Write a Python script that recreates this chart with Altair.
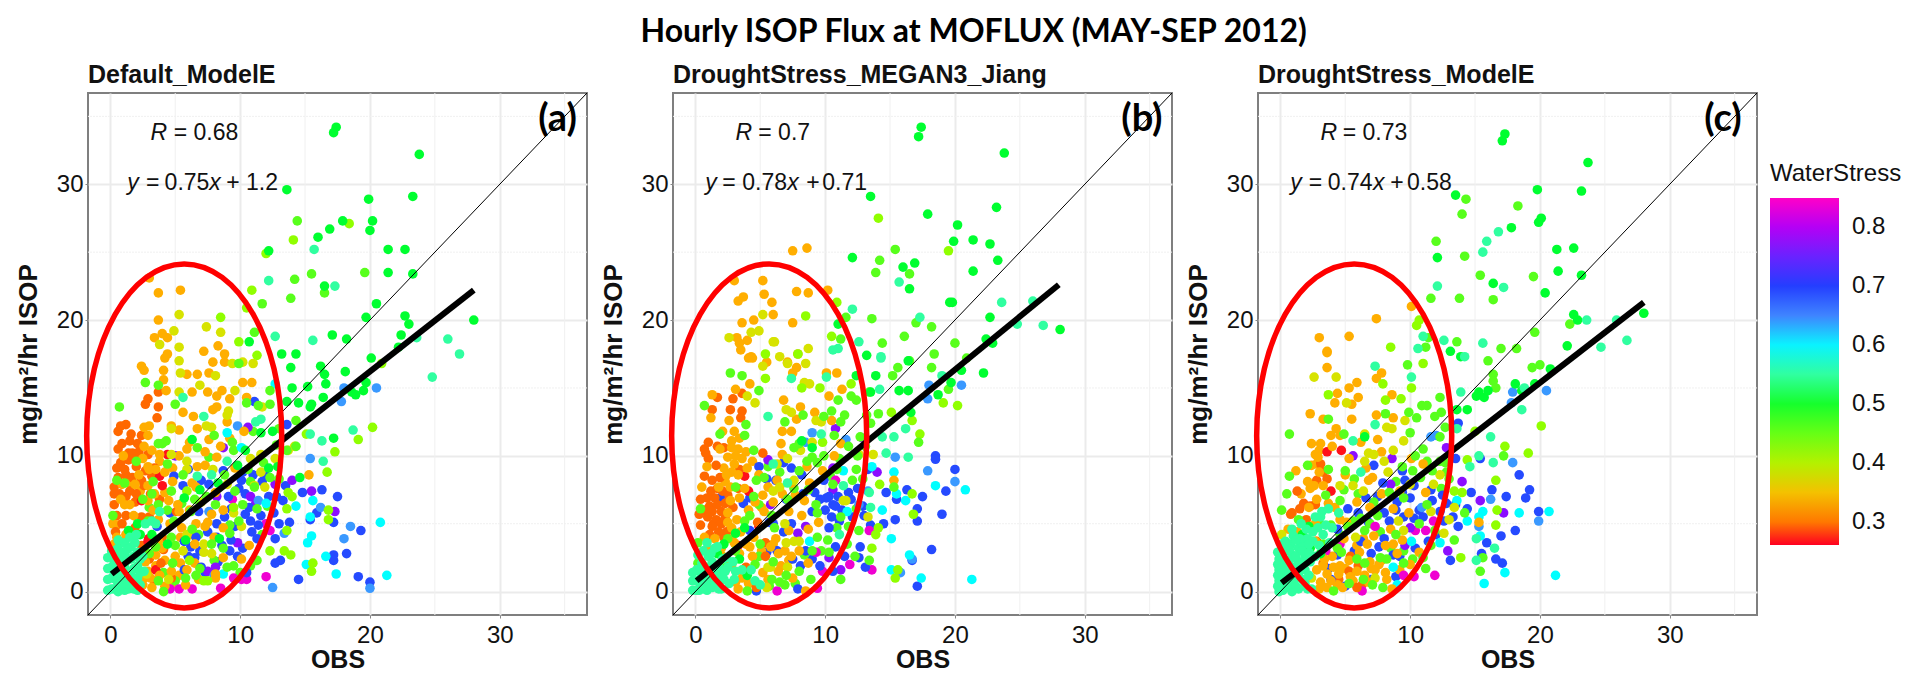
import altair as alt
import pandas as pd

DOMAIN = [-1.72, 36.72]
MAJOR = [0, 10, 20, 30]
MINOR = [5, 15, 25, 35]
W_STOPS = [0.261, 0.285, 0.336, 0.375, 0.42, 0.466, 0.513, 0.55, 0.595, 0.618, 0.652, 0.697, 0.754, 0.782, 0.81, 0.849]
W_COLORS = ["#ff0020", "#ff6000", "#ffb000", "#e0e000", "#90ff00", "#50ff20", "#00ff30", "#30ffa0", "#00ffff", "#30c8ff", "#4080ff", "#2040ff", "#7020ff", "#a000ff", "#c000f0", "#ff00c8"]

# ---------- panel (a) points, grouped by water stress ----------
A_MAG = [(12,1.1),(12.3,4.5),(12,5),(10.1,.9),(10.5,.9),(9.5,1),(6.3,.2),(5.3,.2),(8.5,.25),(9.4,6.8),(4.6,.2)]
A_PUR = [(15.5,7.4),(17.3,5.9),(14,8.2),(5,10),(8.7,10.6),(10.8,7),(9.8,3.6),(8.2,7),(12.7,7.9),(7.5,1.5),(8.1,1.8),(11.2,6.5),(10.6,12.1)]
A_BLU = [(14.8,7.3),(16.3,7.5),(17.5,7),(15.9,5.8),(17.2,5.1),(19.3,4.5),(18.2,2.8),(17.2,2.7),(17.2,2.3),(13.8,5.1),(12.7,3.9),(13.1,2.3),(12.7,2.1),(19.1,1.1),(20,.7),(14.5,.9),(4.9,8.5),(7.6,7.9),(10.1,8.2),(10.2,8.8),(13.3,6.7),(10.7,6.2),(6.6,4),(9.8,2.6),(10.4,5.7),(9.1,7),(10.5,1.4),(13.6,12.3),(11.1,14),(15.4,5.3),(5.7,1.6),(6.9,3),(5.7,3.7),(8.7,8.9),(11.7,8.1),(12.2,7),(9.9,7.6),(11.4,4.9),(10.9,4.4),(8.2,4),(6,2.6),(7,1.8),(9.3,3.8),(11.3,3.9)]
A_LBL = [(18,15),(20.5,15),(17.8,14),(15.4,9.8),(16.2,6.2),(18.5,4.8),(18,3.9),(13.4,4.3),(20,.25),(12.5,.3),(9.8,12.2),(11.4,6.7),(7.6,5.9),(8,1.2)]
A_CYA = [(15.6,6.7),(14.3,6.3),(15.4,5.5),(20.8,5.1),(15.5,4.1),(15.2,3.6),(16.6,2.6),(15.1,2),(17.4,1.3),(21.3,1.2),(9,11.7),(10.1,10.6),(12.7,15.3),(8.7,1.3),(12,6.5)]
A_REDD = [(2.4,6.7),(4,7.8),(3.8,8.5),(2.9,3.7),(3.5,1.6),(4.4,10.1),(2.95,3.9)]
A_ORD = [(.6,11.8),(1.2,12.3),(.8,12.2),(1.5,11.1),(.6,10.5),(1.7,10.2),(.8,9.5),(.5,9.1),(1.2,8.6),(1.7,8.4),(.3,7.7),(.3,7.2),(1.5,7.4),(2.9,14.2),(3.7,14.7),(2.7,13.8),(3.7,13.6),(3.6,12.8),(2.4,8.2),(3.4,9.1),(2.9,10.1),(2.1,10.9),(2.6,7.8),(2,7.2),(1.1,9),(2,9.2),(2.2,10.3),(3,5.5),(5.1,5.9),(4,4),(4.1,3.1),(3.9,2.1),(4.7,1),(1.2,7),(.9,5),(.4,4.4),(2.4,5.5)]
A_ORA = [(3,23.1),(3.7,22),(5.4,22.2),(3.7,20),(4,19),(3.4,18.7),(4.4,18.7),(15.3,8.6),(2.4,16.6),(2.6,16.3),(4.2,17.2),(4.4,17.5),(4.1,16.3),(4.1,15.6),(4.3,14.8),(5.9,16),(6.7,16),(7.6,16.1),(7.9,16.9),(8.8,16.9),(7.5,14.7),(8.6,14.8),(9.2,14.2),(10.2,15.4),(10.9,15.4),(10.5,14.3),(8.2,13.6),(7.9,13.4),(6.4,12.9),(4.7,12.2),(5.3,11.9),(6.7,12),(7.6,11.2),(10.3,11.8),(2.6,12.1),(3,12.2),(2.9,11.5),(2.6,10.7),(3.2,10.4),(8.2,9.9),(5.9,10.5),(5.3,10),(3.8,10.1),(6.7,9.2),(7.3,9.3),(8.5,10.7),(3.5,9),(2.9,7.8),(6.3,8),(6.6,7.7),(.8,6.8),(1.5,6.4),(1.1,6.4),(2.9,6.7),(5.2,6.4),(5.3,5.9),(7.5,5.1),(7.3,4.8),(6.6,5),(8.7,2.5),(10.1,2.4),(10.7,3.4),(8.7,6),(5.9,1.6),(4.7,1.5),(3.2,.3),(3.1,1),(4,3.2),(8.1,1.3),(8.1,1),(8.7,4.7),(5.5,4.7),(.5,4),(.3,3.5),(7.2,17.7),(8.3,18.1),(8.8,17.5),(2.2,8.6),(3,9),(1.8,5.6),(2.7,2.2),(3.8,1.2),(2.5,.5),(4.8,8.1),(1,10),(.9,7.9),(2.5,9.8),(3.4,7.2),(1.9,7.9),(2.9,9.2),(4.2,8.8),(3.3,6),(4.5,6.7),(6.1,6),(7.8,5.7),(8.1,7.3),(9.6,9.1),(6.1,11),(7.3,10.3),(9,12.5),(1,3.7),(3.7,3.7),(5,2.6),(6.5,3.5),(8,4),(6.8,.9),(4.2,.4),(3.5,2.7),(5.8,.5)]
A_YEL = [(5.3,20.4),(7.4,19.5),(8.5,19.1),(4.9,19.2),(5.3,18),(3.8,18.2),(5.3,17),(9.4,16.8),(10.2,16.9),(5.4,16.1),(8.1,15.9),(6.9,15.2),(5.3,14.7),(9.6,14.8),(9.1,13.3),(9,13),(4.7,12),(7.4,12.2),(7.8,12.1),(5.9,9.6),(5.9,9),(7.9,9),(4.7,10.1),(7.2,3.5),(5.6,3),(7.2,2.9),(7.8,2.8),(9,7.9),(11.6,8.8),(11.1,7.8),(11.9,7.7),(5.9,4.2),(10.1,4.8),(9.5,5.8),(14.2,10.7),(13.7,10.4),(12.7,9.8),(11.6,10.1),(10.8,9.8),(11.7,13.6),(11,16.8),(4.5,.9),(2.8,1.3),(7,6.6)]
A_YGR = [(10.9,22.2),(10.5,20.9),(8.5,20.2),(9.9,18.4),(13.6,4.5),(13.6,6.1),(12,24.9),(14.1,25.9),(18.4,27.1),(16.8,6),(16.8,5.3),(20.2,12.1),(19.1,11.2),(17.3,10.3),(16.7,8.8),(15.1,11.6),(13.4,3),(13.9,2.7),(15.5,1.5),(15.6,2.1),(11.3,17.4),(6.1,2.3),(7.2,.8),(7.5,.8),(12.3,3),(14,7),(13.7,7.3),(20.9,16.8),(9.5,6.2),(5.9,7.4)]
A_LIM = [(14.4,27.3),(19.6,23.5),(15.5,23.4),(14.2,23),(16.5,22),(13.9,21.6),(11.7,21.2),(11.1,19.1),(4,10.9),(3.7,10.9),(4.3,11.1),(2.7,15.4),(3.7,15.2),(5,13.8),(.7,13.6),(12.3,14.8),(12.3,13.8),(11.4,13.7),(10.5,13.9),(9.9,16.8),(12.3,8.4),(13,8.3),(11.1,7.7),(.5,8.2),(.2,5.6),(10.2,6.4),(11.3,6.1),(9.9,5.2),(4.1,0),(3.2,7.2),(3.7,6.4),(2,9.6),(4.4,9.4),(4.7,7.4),(8.1,6.4),(3.7,.8),(2.9,5.2),(4.7,4),(8.7,3.2),(6.2,5.9),(14.3,12.6),(11.3,2.3),(14.3,10.7),(13.6,10.4),(5.8,1),(6.9,1.7),(1.1,8),(2.5,6.8),(3.3,8.1),(4.9,5.2),(5.6,8.6),(6.5,6.8),(7.4,7),(8.8,8.6),(9.6,7.4),(10.6,9),(11.8,9.5),(9.4,11),(8,11.5),(12.8,10.8),(13,12),(3.5,3.3),(5,3.4),(6.3,4.6),(7.8,3.5),(9.2,4.3),(9,1.8),(6.6,1.2),(4.8,2.1),(3,2.8)]
A_GRN = [(17.4,34.2),(17.2,33.8),(23.8,32.2),(23.3,29.1),(19.9,28.9),(13.6,29.6),(17.9,27.3),(20.2,27.3),(20,26.6),(16.9,26.7),(16,26.1),(21.4,25.2),(22.7,25.2),(12.2,25.1),(21.4,23.5),(23.3,23.4),(16.5,22.5),(20.5,21.2),(19.7,20.2),(22.7,20.3),(23,19.7),(28,20),(17.1,18.9),(18.2,18.6),(22.4,18.9),(10.7,18.4),(22.2,18),(14.3,17.5),(13.2,17.5),(13.9,16.5),(20.1,17.2),(18.1,16.2),(16.2,16.6),(16.5,16),(16.6,15.3),(19.7,15.4),(15.2,15.1),(14,15),(18.6,14.7),(19.5,14.8),(18.9,14.5),(16.4,14.3),(15.5,13.8),(14.5,13.9),(15.4,13.6),(17.2,11.3),(14.6,8.4),(2.1,5),(1.4,4.5),(2.3,4.2),(3.2,4.2),(6.9,7.5),(8.4,3.9),(5.7,6.9),(8.3,8),(9.8,9.3),(11.6,11.7),(10.4,10.4),(6.3,11.2),(12.2,9.1),(12.9,9.2),(12.5,11.8),(13.6,14),(4.4,3.5),(5.8,3.8)]
A_TEA = [(15.7,25.2),(17.3,22.5),(12.2,22.9),(12.7,18.8),(15.6,18.5),(23.6,18.7),(26,18.6),(26.9,17.5),(24.8,15.8),(18.7,11.9),(16.3,11.1),(15.4,11.6),(16.4,9.6),(5.6,14.3),(7.2,12.9),(11.6,12.7),(11.2,12.5),(7.8,8.6),(6.7,8.5),(9,9.6),(3.2,5.2),(3.8,5.9),(2.7,5),(3.5,5),(.1,2.6),(.1,1.8),(.1,1),(.1,.2),(.6,3.2),(.6,2.4),(.6,1.5),(.6,.6),(.6,0),(1.1,3.6),(1.1,2.7),(1.1,1.8),(1.1,.9),(1.1,.1),(1.6,3.3),(1.6,2.4),(1.6,1.4),(1.6,.5),(2.1,2.9),(2.1,1.9),(2.1,1),(2.1,.1),(2.6,1.5),(.4,.9),(.9,2.2),(1.4,.2),(1.9,3.6),(.3,2.1)]
# denser, underlying points of panel (a)
A_F_BLU = [(6.5,2.5),(7.3,1.4),(8.3,2.2),(9.2,3),(8.6,3.4),(6.2,3.3),(7.5,4.4),(8.8,5.5),(9.6,4.8),(10.2,3.2),(10.8,5.2),(11.6,5.6),(12.6,5.8),(13,5),(12.8,7),(13.5,7.8),(12,8.5),(11,8.6),(10.4,7.2),(9.3,6.1),(8.2,5),(7,8.2),(6,9),(5.6,7.8),(4.6,5.8),(3.6,4.8),(6.8,5.9)]
A_F_ORD = [(.3,6.4),(.7,7.2),(1.9,6.6),(2.7,8.9),(3.2,8.5),(1.4,9.7),(.9,10.9),(1.6,11.6),(2.4,11.5),(1.9,9.8),(.5,5.6),(1.2,5.6),(1.9,4.7),(3.8,6.8),(2.4,3.4),(3,2.4),(3.4,.8),(.6,8.4),(1.4,10.2),(3.1,7.2)]
A_F_ORA = [(.5,4.9),(.2,5),(1.2,4.2),(3.7,5.3),(4.6,5),(5.4,4),(6.2,4.2),(4.2,2.3),(5.4,2.1),(6.5,2.1),(4.7,.5),(5.3,1.2),(2.9,1.5),(3.5,1.9),(2.6,1),(3.8,9.6),(4.8,9.1),(2.3,7.4),(1.5,8),(4.2,7.3),(9.2,11.3),(8.2,14.4),(5.6,13.2),(6.3,14.7)]
A_F_LIM = [(6.8,4.2),(8,2.3),(9.5,1.9),(10,1.4),(10.8,1.9),(9.2,4.9),(10.8,8.1),(12.1,6.3),(11.7,4.2),(5.5,6.5),(4.4,6),(7.6,9.9),(6.7,10.6),(9.5,10.4),(11,11.8),(3,6.2),(4.1,1.4),(5,.8)]
A_F_TEA = [(-.2,.1),(-.2,.9),(-.2,1.7),(-.2,2.5),(.3,.2),(.3,1.4),(.3,2.8),(.8,.4),(.8,1.3),(.8,2.9),(1.3,.6),(1.3,1.4),(1.3,2.3),(1.3,3.1),(1.8,.2),(1.8,.8),(1.8,1.7),(1.8,2.6),(2.3,.5),(2.3,1.4),(2.3,2.4),(.1,3),(.6,3.8),(1.5,4),(2.5,2.6),(2,4.2)]

# ---------- panel (b) points ----------
B_MAG = [(13.4,4.5),(11.9,2),(13.6,1.6),(9.8,1.5),(9.4,.25),(6.3,.05),(10.8,8.2),(9.3,2.9)]
B_PUR = [(14,8.8),(11.2,1.6),(10.8,12),(5.6,9.7),(10.6,9.1),(8.5,4.8),(7.9,4.3),(5.8,6.4),(10.3,2.5),(12.9,11.3),(10.6,7.5)]
B_BLU = [(18.5,10),(18.5,9.75),(20,9),(19.3,7.4),(16.3,7.5),(14.7,7.3),(17.5,7),(15.5,6.8),(17.1,6.1),(19,5.7),(15.4,5.3),(17.1,5.2),(14.5,5),(18.2,3.1),(12.7,3.3),(16.7,2.3),(12.6,2.5),(13.1,1.8),(17.1,.4),(10.6,1.5),(7.9,.2),(4.7,.05),(9.9,8.2),(10.1,6.9),(10.6,6.4),(10.3,7),(10.8,6.3),(1.9,6.9),(8.5,3),(6.3,3),(5.7,5.1),(13.3,9),(6.2,8.2),(12,6.8),(11.3,6),(9.2,7.3),(12.1,5.5),(11,7),(8.2,8.6),(7,6.8),(6,5),(7.5,2.4),(9.6,1.9),(10.3,4.7),(13,5.6),(4.9,9.2),(3.7,6.5)]
B_LBL = [(20.5,15.2),(18,15.2),(17.9,14.2),(15.4,9.9),(17.9,8.9),(20,8.1),(9,11.7),(8.5,11),(11.6,11.2),(12.6,6.4),(13.3,7.4),(15.8,1.4),(16.7,2.4)]
B_CYA = [(13.6,9.2),(15.3,8.8),(18.5,7.8),(20.8,7.5),(15.5,7.2),(16.2,6.7),(14.4,6),(16.5,2.7),(15.1,1.6),(17.4,1),(21.3,.9),(11.7,5.9),(8.8,3.7),(11.4,8.9),(15.1,3.9)]
B_REDD = [(3.8,8.5),(4.1,7.4),(4.9,4.8),(3.3,3.4)]
B_ORD = [(1.7,14.3),(1.3,13.4),(2.7,13.4),(2.9,14.2),(3.6,14.6),(3.6,13.3),(3.5,12.8),(.7,10.5),(1,11),(.8,10.2),(2.2,10.6),(1.6,9.3),(.7,8.5),(1.3,8.2),(1.9,8.4),(1.5,6.9),(1.1,6.3),(1.7,6.4),(1.3,5.9),(2,5.9),(.95,5.5),(1.6,5.3),(1.3,4.8),(2,5),(.4,6.8),(.3,5.7),(3.4,9),(5.2,10.2),(4.8,5.1),(5.4,3.6),(5.4,2.6),(3.9,1.8),(4.7,.3),(2.3,6.5),(2.1,7.4),(1.2,7.4),(2.4,4.4),(1.8,4.4)]
B_ORA = [(7.5,25.1),(8.6,25.3),(3,22.9),(5.2,22.9),(3.7,21.7),(3.3,21.4),(5.3,21.9),(7.8,22.1),(8.7,22),(10.2,22.2),(5.9,21.3),(6,20.4),(4.5,20),(3.6,19.8),(7.5,19.8),(3.2,18.7),(4,18.5),(3.4,18.3),(3.5,17.8),(4.3,17.3),(7.9,17.5),(7.1,16.9),(15.3,8.2),(1.2,12.8),(1.3,14.5),(3.1,14.9),(4.2,15.3),(6.8,14.1),(5.5,16.9),(4.4,17.2),(4.1,17.2),(7.5,16.1),(7.8,16.5),(10.1,16.1),(10.9,16.1),(11.3,14.9),(10.3,14.4),(8.1,13.6),(9.2,13.2),(10.5,12.6),(7.8,12.7),(7.4,11.8),(6.7,11.8),(6.6,10.9),(2.6,12.6),(2.1,11.8),(3,11.8),(2.8,11.1),(2.8,10.6),(3.3,10.5),(3.1,10),(2.5,9.9),(3.6,9.8),(3,9.4),(4,9.1),(2.8,8.8),(3.3,8.6),(4.9,8.6),(.5,7.7),(2.7,7.7),(3.4,6.9),(2.7,6.7),(4.6,6.6),(5.2,7.1),(2.5,5.8),(2.5,5.1),(2.8,4.7),(6.3,8.2),(6.7,7.2),(8.4,6.7),(8.2,5.6),(7.2,5.9),(7.2,4.5),(8.7,4.6),(9.5,5.1),(9.8,8.9),(10.7,10),(11.2,10.9),(6.2,3.9),(7.4,2.6),(6.4,2.8),(8.7,2.1),(4.4,2.6),(3.4,2.8),(1,3.1),(1.5,3.9),(.7,4),(3.3,.2),(5.6,.9),(5.2,1.4),(8.5,.05),(3.9,3.5),(1.8,7.7),(2.4,8.6),(3.8,7.6),(4.1,6),(5.3,5.9),(6,6.6),(7.4,8),(8.8,8),(3,3.6),(4.5,4),(5.8,3.3),(6.9,3),(8,3),(2,3.2),(2.8,2),(3.6,1),(6.4,1.5),(7.5,1),(1.9,10.5),(.9,9.2)]
B_YEL = [(5.2,20.4),(4.9,19.2),(4.3,19.1),(2.6,18.7),(6,18.4),(8.7,17.9),(6.5,17.3),(8.5,16.8),(6.1,18.4),(7.1,16.8),(5.2,16.6),(8.4,15.4),(8.8,15.3),(4.6,13.9),(7,13.4),(7.4,13.2),(9.7,12.5),(9.3,12.6),(9,11),(8.1,10.4),(7.1,9.8),(6.3,9.4),(7.6,8.2),(6,7.4),(6.5,7.7),(6.9,5),(7,3.6),(7.6,3.7),(8,3.7),(5.6,1.8),(5.8,1.8),(7.1,1.8),(5.5,.3),(13.3,5.5),(12.6,10.1),(11.4,6.7),(11.6,6.7),(4,14.4),(13.7,10.1)]
B_YGR = [(10.5,18.8),(10.9,21.3),(8.5,20.3),(5.4,17.5),(7.9,17.5),(14.1,27.5),(19.5,25.1),(5.4,15.7),(8.2,15),(9.6,15),(19.1,13.9),(20.2,13.7),(16.7,12.6),(17.3,11.6),(15.1,13.2),(16.7,7.2),(16.8,5.7),(14.1,4.7),(13.9,4.2),(13.6,3.2),(15.4,1),(15.6,1.6),(14.2,7.9),(12,15.3),(9.8,11)]
B_LIM = [(15.4,25.2),(14.2,24.4),(13.9,23.5),(16.5,23.4),(11.6,20.2),(13.6,20.1),(17,19.8),(18.2,19.5),(11.2,18.6),(16.1,18.8),(20,18.3),(14.4,18.3),(18.4,17.5),(16.5,17),(20.9,17.2),(18.2,16.5),(19.5,14.9),(12,14.4),(11,14.1),(12.4,14.1),(13.4,14.7),(10.5,13.3),(9.9,12.9),(8.3,13),(6.9,12.5),(11.2,12.5),(.7,13.7),(2.7,16.1),(3.6,15.9),(4.9,14.8),(1.9,11.6),(3.9,12.3),(3.8,11.5),(4.5,10.4),(8,10.9),(9,9.9),(12.5,10),(12.4,9),(12.1,8.2),(3.1,7.7),(4.7,8.2),(4.2,5.6),(.4,6.1),(9.3,6.4),(9.4,5.8),(11.2,5.5),(12.6,4.5),(11.7,3.5),(10.3,2.9),(8,1.5),(8.9,.9),(5.9,.9),(6.5,.7),(4,.05),(.2,3.6),(.2,2.1),(9.4,4),(6.1,4.7),(8,8.9),(5.3,8.4),(10.6,7.9),(12.3,2.6),(13.4,2.3),(15.6,16.5),(15.2,15.9),(14.1,13.1),(17.2,11),(15.3,7.7),(11.2,.9),(4.5,7),(5.9,5.6),(7.1,6.8),(8.7,7.5),(9.4,9.5),(10.9,9),(11.8,10.7),(12.7,11.4),(13.2,13),(13.5,12.4),(10.7,11.5),(9.9,10),(8.6,9.6),(7.6,10.6),(5,3.5),(6,2.2),(9,3),(10.2,3.8),(4.6,2),(7,1.2),(2.5,3.9),(3.1,3)]
B_GRN = [(17.4,34.2),(17.2,33.5),(23.8,32.3),(13.5,29.1),(23.2,28.3),(17.9,27.8),(20.2,27),(19.9,25.8),(21.4,25.9),(22.7,25.6),(12.1,24.6),(16,23.9),(16.9,24.2),(23.3,24.4),(21.4,23.6),(16.5,22.3),(19.8,21.3),(19.6,21.3),(22.7,20.2),(11,19.7),(22.4,18.6),(22.9,18.3),(28.1,19.3),(13.2,17.4),(22.2,16.1),(20.5,16.3),(19.7,15.4),(18.7,14.5),(16.4,17),(13.9,15.9),(12.4,15.9),(15.7,14.8),(16.4,14.8),(13.5,14.7),(16.6,13.2),(9,10.6),(8.2,11.1),(3.1,4.3),(3.8,4.7),(2.2,3.5),(1.7,2.8),(3.4,2.4),(4,1.2)]
B_TEA = [(15.7,22.8),(23.6,21.3),(26,21.4),(12.1,20.8),(17.3,20.2),(24.8,19.7),(26.8,19.6),(12.6,18.4),(11,17.9),(10.6,17.8),(14.3,17.3),(19,15.9),(14.3,17.2),(14.2,14.9),(16.2,12),(15.3,11.4),(14.4,11.4),(16.4,9.9),(14.7,10.2),(5.6,12.9),(7.4,15.7),(10.1,15.8),(9.7,11.6),(6,9.4),(7.1,8),(11.4,7.8),(13.4,7.3),(13.5,6.2),(11.1,4.2),(4.6,.8),(2.5,1.8),(3.1,1.5),(1.9,.9),(.1,1.6),(.1,.8),(.1,.1),(.5,2.1),(.5,1.3),(.5,.5),(.9,1.8),(.9,.9),(.9,.1),(1.3,2.2),(1.3,1.2),(1.3,.3),(1.8,1.8),(1.8,.2),(2.2,.9),(2.6,.6),(.3,1.5),(1.5,3.2),(1,2.6),(2.4,2.5),(2.9,2.2),(3.6,1.6),(.6,3),(2.1,1.3),(4.3,1.6),(5,.5)]
# denser, underlying points of panel (b)
B_F_BLU = [(9.6,6.8),(10,6),(10.5,5.5),(11.1,5.2),(11.8,7.3),(12.5,7.6),(12.9,6.3),(13.5,4.9),(9,5.9),(8.3,7.2),(7.4,9.1),(6.8,9.5),(5.5,8.3),(4.2,4.5),(5.5,2.9),(6.8,4.4),(7.4,5),(9,2.4),(10.8,3.3),(11.5,2.6),(8.1,1.9),(4.2,6.9)]
B_F_ORD = [(.9,6.9),(1.7,7.6),(2.3,5.4),(1.4,5),(.7,6),(1.9,5.1),(2.2,4),(1.1,4.2),(2.9,6.2),(3.3,7.6),(.4,4.9),(1.7,10.7),(1,9.8),(2.5,7.1)]
B_F_ORA = [(3.2,5.3),(3.5,4.4),(2.8,3.9),(4.2,3.3),(5.1,3),(6,3.5),(6.6,1.9),(7.2,2.3),(2.1,2.6),(2.4,1.7),(3.1,.7),(4.1,.6),(3.4,11.3),(3.9,10.3),(4.4,9.6),(2.2,9.1),(2.3,8.1),(5.1,6.2),(5.6,7.7),(7.7,7.1),(8.6,9.2),(6.7,10.1)]
B_F_LIM = [(4.9,2.6),(5.7,.4),(6.9,.5),(7.7,.6),(8.4,2.7),(9.7,3),(10.9,4.7),(11.8,4.8),(12.4,6.1),(12.9,8.3),(11.1,9.8),(10.4,8.5),(7.6,7.6),(6.5,8.8),(5.6,9.2),(4.9,6.4),(3.8,5.2),(2.2,2.2),(13.1,10.7),(11.5,13)]
B_F_TEA = [(-.2,.1),(-.2,.8),(-.2,1.4),(.3,.1),(.3,.7),(.7,.2),(.7,1.1),(.7,1.8),(1.1,.5),(1.1,1.5),(1.6,.7),(1.6,1.4),(2,.2),(2.3,1.5),(1.2,2.8),(2.1,2.4),(.2,2.7),(.9,3.6),(3,.9),(1.7,3.3)]

# ---------- panel (c) points ----------
C_MAG = [(11.9,1.2),(10.3,1.1),(9.5,1.2),(11.8,5.2),(11.2,4.5),(10.4,4.5),(7.3,4.8),(6.3,.05),(3.5,3),(4.6,3.5)]
C_PUR = [(14,8.1),(15.4,6.7),(17.2,5.8),(12.9,3),(5.6,10),(8.6,9.8),(8.5,7.9),(12.8,10.6),(10,4.7),(9.6,3.4)]
C_BLU = [(18.4,8.6),(19.2,7.5),(18.9,6.9),(16.3,7.5),(14.7,7.3),(17.4,7),(14.4,6.1),(19.9,5.9),(13.7,4.8),(18.1,4.5),(17,4.1),(15.9,3.6),(15.5,2.8),(13.1,2.3),(16.6,2.4),(17.1,2.1),(15.4,9.8),(13.5,9.8),(13.7,12.4),(7.2,9.3),(9.6,8.2),(10,6.9),(8,5.8),(9.5,5.5),(6.2,3.7),(12.3,5.9),(13.5,6.4),(12.6,5.2),(9.4,8.9),(6.6,6.9),(7.9,8),(9,6.6),(10.7,6),(11.7,6.7),(12.5,7.1),(8,3.9),(7,2.8),(8.7,2.7),(6,5.8),(5.2,6.1),(4.4,4.6),(3.9,.9)]
C_LBL = [(20.5,14.8),(17.9,14.7),(17.8,13.9),(17.9,9.5),(19.9,5.2),(15.3,4.8),(11.6,11.4),(12,11.5),(10.9,6.2),(16.2,6.8)]
C_CYA = [(13.6,6.7),(15.6,5.9),(15.3,5.5),(18.4,5.8),(20.7,5.9),(14.4,5.2),(15.4,4.1),(12.3,3.6),(17.3,1.4),(21.2,1.2),(15.7,.6),(10.1,3.7),(8.7,1.8),(9,.5)]
C_REDD = [(3.6,10.3),(4.7,10.4),(3.9,7.4)]
C_ORD = [(.9,5.8),(1.3,7.4),(1.8,6.5),(3.6,8.3),(3.1,9.4),(5.3,1.5),(2.8,3.7),(.8,5.7),(2.3,6.3),(5.9,.3)]
C_ORA = [(10.1,21),(7.4,20.1),(3,18.7),(5.3,18.8),(3.6,17.7),(3.6,17.6),(3.6,16.5),(7.8,16.1),(7.4,15.7),(5.9,15.4),(5.3,15),(4.4,14.6),(8.6,14.5),(6,14.3),(4.2,13.9),(5.5,13.8),(7.4,13),(8.7,12.8),(5.5,12.7),(3.3,12.7),(2.3,13.1),(4.3,12),(3.9,11.5),(4.6,11.5),(7.5,11.2),(2.4,10.9),(3.1,10.9),(4,10.7),(7.8,10.3),(5.3,9.8),(2.9,9.9),(2.4,9.3),(3,8.8),(1.2,8.9),(6.6,9.1),(10.1,9.8),(11,9.4),(2.6,7.8),(6.8,8.2),(11.2,7.3),(7.8,7.2),(2.8,6.8),(2.2,6.2),(5.9,6.6),(8.7,6.1),(9.9,5.8),(5.1,5.1),(8.5,4.6),(.6,4.6),(7.2,4.1),(9.4,3.8),(8.1,3.4),(8.7,3.5),(2.7,3.7),(5.3,2.3),(4.1,1.8),(3.6,1.3),(7.3,1.6),(4.5,1.3),(3.1,.7),(3.9,.8),(4.8,.3),(8.2,.9),(10,2),(10.7,2.9),(15.3,5.1),(8.6,.2),(2.8,1.6),(6.1,2.9),(6.9,2.2),(5.4,1.1),(2.1,8.1),(2.7,5),(3.3,7.8),(4.2,6.2),(1.3,4.4),(2,3.4),(3.4,2.4),(4.6,1.9),(5.9,1.5),(6.5,1.2),(3.6,.3),(6.7,3.5),(7.8,2.3),(9,2.8),(4.9,3.9),(9.2,7.4),(6.9,6.2),(5,8.6)]
C_YEL = [(2.6,15.8),(4.3,15.8),(5.1,13.9),(8.6,12),(8.2,12.1),(9.6,12.6),(9.5,11.1),(6.5,11.6),(6.8,10.2),(7.2,10.1),(8.7,10.4),(6.5,9.6),(8,9.6),(8.3,8.8),(4.6,7.8),(5.6,7.8),(6.4,7.4),(.1,4.2),(5.8,4),(9.1,5.2),(13,5.3),(11.6,5.9),(9.5,4.5),(7.3,1),(11.8,7.9),(12.3,8.6),(10,7.9),(13.4,6.2),(12.6,4.3),(2.4,1)]
C_YGR = [(10.7,20),(10.5,19.6),(8.5,18),(3.7,14.5),(8.1,14.1),(9.3,14.2),(10.1,15),(11,16.8),(7.9,15.3),(20.1,12.2),(17.3,10.7),(19.1,10.2),(15,11.8),(14.4,9.7),(16.6,8.2),(16.7,6),(16.6,4.9),(13.9,2.5),(14,7.3),(13.4,7.4)]
C_LIM = [(14.3,28.9),(14,27.8),(18.3,28.4),(19.5,23.2),(15.4,23.3),(11.6,21.6),(13.8,21.6),(16.4,21.5),(12,25.8),(14.2,24.7),(19.6,19.1),(16,17),(17,17.9),(18.2,17.9),(11.4,18.7),(11.2,18),(13.6,18.4),(22.3,19.7),(9.8,16.7),(16.4,16),(16.4,15.5),(16.6,15),(19.4,16.5),(20,16.7),(12.3,14.3),(10.9,13.7),(11.3,13.7),(11.9,12.9),(12.4,13.2),(10.5,12.8),(9.9,13.2),(8.1,13.1),(.7,11.6),(4.9,11.6),(3.7,12.7),(10,11.7),(11,10.5),(12.7,12.1),(12.3,11.4),(2.1,9.3),(.7,8.5),(.5,7.2),(.1,6),(5,8.9),(3.7,9),(3.5,7.1),(4.6,6.7),(12.3,9.6),(11.7,8.9),(9.5,6.9),(11.3,6.4),(10.7,5),(11,2.5),(7.7,2.5),(6.5,2.1),(5.9,2.4),(4.1,.05),(7.1,.5),(4.7,2.9),(6.5,4.5),(11.2,1.7),(15.6,2.5),(15.4,1.5),(17.2,10),(14.2,5.8),(13.4,3.8),(1.4,5.3),(3.3,3.5),(4.4,3.2),(5.2,4.8),(6.2,5.4),(7.5,5.6),(8.4,7.3),(9.4,9.2),(10.4,10),(10.8,8.4),(8.9,4.2),(8.2,2.4),(6.4,.9),(5.3,.6),(7.9,.3),(9.5,2.1),(12.7,9.5),(13,8.3)]
C_GRN = [(17.3,33.7),(17.1,33.2),(23.7,31.6),(19.8,29.6),(23.2,29.5),(13.5,29.2),(20.1,27.5),(19.9,27.2),(17.8,26.8),(12.1,24.6),(21.3,25.2),(22.6,25.3),(21.4,23.6),(23.2,23.3),(16.4,22.7),(20.4,22),(28,20.5),(22.6,20.4),(22.9,20),(22.1,18.1),(13.1,17.7),(13.9,17.3),(20.8,16.4),(18.1,15.3),(19.6,15.3),(16,14.8),(15.3,14.7),(15.7,14.3),(15.1,14.4),(18.6,14.8),(14.4,13.4),(13.6,13.4),(6.5,11.4),(1.7,4.2),(2.2,4.8),(2.3,3.2),(3.1,2.8)]
C_TEA = [(16.8,26.5),(15.9,25.8),(15.6,25),(17.2,22.4),(12.1,22.5),(23.6,20),(25.9,20),(26.7,18.5),(24.7,18),(15.6,18.3),(12.6,18.5),(11,18.8),(10.6,17.9),(14.2,17.3),(18.8,15),(13.9,14.7),(18.6,13.4),(16.2,11.4),(13.6,12),(16.4,9.5),(15.3,10),(14.6,9.2),(15.1,3.9),(16.5,3.2),(15.1,2.3),(5.6,11.1),(7.3,16.6),(10.1,15.8),(6.2,8.8),(7.3,12.3),(3.2,5.9),(3.7,6.1),(4.5,5.8),(2.7,5.5),(3.1,5.5),(3.3,4.2),(4,4.7),(.8,3.5),(1.4,3.2),(-.1,2.4),(-.1,1.6),(-.1,.8),(-.1,0),(.4,3),(.4,2.1),(.4,1.2),(.4,.3),(.9,2.7),(.9,1.8),(.9,.9),(.9,0),(1.4,2.2),(1.4,1.2),(1.4,.2),(1.9,2.7),(1.9,1.6),(1.9,.6),(2.3,2.2),(2.4,.2),(.2,1.7),(.7,.6),(1.2,1.7),(1.7,3.5),(2.7,2.6),(2.1,3.9),(1,4.1),(1.5,3.9),(.4,3.7),(2.5,3.7),(3,3.4),(1.6,5),(2.5,4.4),(3.8,3.6),(.1,3.2)]
# denser, underlying points of panel (c)
C_F_BLU = [(8.4,5.2),(8.9,6),(9.4,7.3),(10.3,5.4),(11,5.5),(11.6,7.5),(12.8,6.5),(10.3,7.8),(7.5,7),(6.8,5.1),(7.6,3.3),(9.2,2.6),(10.4,3.2),(11.4,3.7),(12,4.2),(13.3,5.5),(5.7,3),(4.4,2.7),(3.7,1.7),(5,.4),(7,.9),(8.9,1.1)]
C_F_ORD = [(1.5,6.1),(2,5.3),(2.7,6.4),(3.3,8.8),(2.8,8.2),(3.3,2.1),(4.5,.9),(5.4,2.6),(6,1.9),(6.3,.5)]
C_F_ORA = [(1.6,7.2),(2.3,7.6),(2.8,9.4),(3,10.4),(2.7,10.1),(3.7,6.5),(4.6,5.3),(5.9,3.4),(6.4,3.9),(7,1.7),(7.6,2),(8.1,1.4),(9.2,1.6),(4.4,.5),(5,1.7),(3,.2),(3.3,1.9),(4,2.6),(5.6,.8),(6.8,.7),(7.1,8.4),(6.2,11)]
C_F_LIM = [(3,5),(3.9,4.9),(4.6,4.2),(5.6,5.2),(6.9,5),(7.7,4.4),(8.5,3.2),(9.5,3),(10.2,2.4),(11.6,3.4),(11.9,4.5),(12.4,7.6),(12.8,8.8),(10.2,8.9),(8.9,8.1),(7.2,6.6),(5.7,8.3),(4.9,7.5),(6,7.2),(11.3,9.6)]
C_F_TEA = [(-.2,.4),(-.2,1.2),(-.2,2),(-.2,2.9),(.2,.1),(.2,.9),(.7,1.4),(.7,2.3),(.7,3.1),(1.2,.4),(1.2,1),(1.2,2.6),(1.7,.9),(1.7,2.2),(1.7,3),(2.2,1.2),(2.2,2.9),(2.1,.2),(.3,3.6),(.9,4.6),(1.2,3.8),(2,4.6),(2.9,4.7),(3.5,4.9),(2.2,3.5)]

GROUP_W = [0.69, 0.29, 0.335, 0.46, 0.84, 0.77, 0.69, 0.64, 0.595, 0.265, 0.29, 0.335, 0.38, 0.42, 0.46, 0.513, 0.55, 0.55]
PANEL_A = [A_F_BLU, A_F_ORD, A_F_ORA, A_F_LIM, A_MAG, A_PUR, A_BLU, A_LBL, A_CYA, A_REDD, A_ORD, A_ORA, A_YEL, A_YGR, A_LIM, A_GRN, A_TEA, A_F_TEA]
PANEL_B = [B_F_BLU, B_F_ORD, B_F_ORA, B_F_LIM, B_MAG, B_PUR, B_BLU, B_LBL, B_CYA, B_REDD, B_ORD, B_ORA, B_YEL, B_YGR, B_LIM, B_GRN, B_TEA, B_F_TEA]
PANEL_C = [C_F_BLU, C_F_ORD, C_F_ORA, C_F_LIM, C_MAG, C_PUR, C_BLU, C_LBL, C_CYA, C_REDD, C_ORD, C_ORA, C_YEL, C_YGR, C_LIM, C_GRN, C_TEA, C_F_TEA]

TITLES = ["Default_ModelE", "DroughtStress_MEGAN3_Jiang", "DroughtStress_ModelE"]
TAGS = ["(a)", "(b)", "(c)"]
TAG_X = [34.45, 34.4, 34.1]
R_X = [4.88, 4.85, 4.8]
R_TXT = ["= 0.68", "= 0.7", "= 0.73"]
EQ_X = [[1.31, 2.74, 4.18, 7.62, 8.93, 10.45], [0.77, 2.08, 3.62, 7.09, 8.55, 9.78], [0.77, 2.18, 3.65, 7.14, 8.47, 9.76]]
EQ_SLOPE = ["0.75", "0.78", "0.74"]
EQ_ICPT = ["1.2", "0.71", "0.58"]
FIT_X = [[0.1, 28.0], [0.1, 28.0], [0.1, 28.0]]
FIT_Y = [[1.3, 22.2], [0.8, 22.6], [0.65, 21.3]]
ELLIPSE = (5.69, 11.47)
# svg ellipse outline of the annotation; the semi-axes ratio is taken from the picture
ELLIPSE_PATH = "M-0.567,0 A0.567,1 0 1 1 0.567,0 A0.567,1 0 1 1 -0.567,0 Z"
ELLIPSE_SIZE = 118336

FONT = "Liberation Sans"
scale_x = alt.Scale(domain=DOMAIN, nice=False, zero=False)
color_scale = alt.Scale(domain=W_STOPS, range=W_COLORS, interpolate="rgb")


def panel(i, groups, legend):
    rows = [
        {"OBS": p[0], "MOD": p[1], "WaterStress": w}
        for w, pts in zip(GROUP_W, groups)
        for p in pts
    ]
    df = pd.DataFrame(rows)
    xax = alt.Axis(values=MAJOR, title="OBS", labelFontSize=24, titleFontSize=25, labelFont=FONT, titleFont=FONT,
                   titleFontWeight="bold", gridColor="#ebebeb", gridWidth=2, domain=False, tickSize=3,
                   tickColor="#888888", labelColor="#111111", titleColor="#111111", titlePadding=0, labelPadding=5,
                   labelFlush=False)
    yax = alt.Axis(values=MAJOR, title="mg/m\u00b2/hr ISOP", labelFontSize=24, titleFontSize=26, labelFont=FONT, titleFont=FONT,
                   titleFontWeight="bold", gridColor="#ebebeb", gridWidth=2, domain=False, tickSize=3,
                   tickColor="#888888", labelColor="#111111", titleColor="#111111", titlePadding=15, labelPadding=2)
    X = alt.X("OBS:Q", scale=scale_x, axis=xax)
    Y = alt.Y("MOD:Q", scale=scale_x, axis=yax)

    minor_x = alt.Chart(pd.DataFrame({"v": MINOR})).mark_rule(color="#f0f0f0", strokeWidth=1).encode(
        x=alt.X("v:Q", scale=scale_x))
    minor_y = alt.Chart(pd.DataFrame({"v": MINOR})).mark_rule(color="#f0f0f0", strokeWidth=1, strokeDash=[2, 1]).encode(
        y=alt.Y("v:Q", scale=scale_x))
    pts = alt.Chart(df).mark_circle(size=92, opacity=1).encode(
        x=X, y=Y,
        color=alt.Color("WaterStress:Q", scale=color_scale, legend=legend),
    )
    diag = alt.Chart(pd.DataFrame({"a": DOMAIN, "b": DOMAIN})).mark_line(color="black", strokeWidth=1).encode(
        x=alt.X("a:Q", scale=scale_x), y=alt.Y("b:Q", scale=scale_x))
    fit = alt.Chart(pd.DataFrame({"a": FIT_X[i], "b": FIT_Y[i]})).mark_line(color="black", strokeWidth=6).encode(
        x=alt.X("a:Q", scale=scale_x), y=alt.Y("b:Q", scale=scale_x))
    ring = alt.Chart(pd.DataFrame({"a": [ELLIPSE[0]], "b": [ELLIPSE[1]]})).mark_point(
        shape=ELLIPSE_PATH, size=ELLIPSE_SIZE, filled=False, stroke="#ff0000", strokeWidth=5.5, opacity=1).encode(
        x=alt.X("a:Q", scale=scale_x), y=alt.Y("b:Q", scale=scale_x))

    def txt(xs, ys, labels, **kw):
        base = dict(align="left", baseline="middle", font=FONT, fontSize=23, color="#111111")
        base.update(kw)
        return alt.Chart(pd.DataFrame({"a": xs, "b": ys, "t": labels})).mark_text(**base).encode(
            x=alt.X("a:Q", scale=scale_x), y=alt.Y("b:Q", scale=scale_x), text="t:N")

    ex = EQ_X[i]
    ital = txt([3.1, ex[0], ex[3]], [33.8, 30.1, 30.1], ["R", "y", "x"], fontStyle="italic")
    norm = txt([R_X[i], ex[1], ex[2], ex[4], ex[5]], [33.8, 30.1, 30.1, 30.1, 30.1],
               [R_TXT[i], "=", EQ_SLOPE[i], "+", EQ_ICPT[i]])
    tag = txt([TAG_X[i]], [34.7], [TAGS[i]], align="center", font="Lato", fontWeight="bold", fontSize=38, color="black")

    return alt.layer(minor_x, minor_y, pts, diag, fit, ring, ital, norm, tag).properties(
        width=499, height=522,
        title=alt.TitleParams(TITLES[i], anchor="start", frame="group", font=FONT, fontWeight="bold",
                              fontSize=25, color="#111111", offset=3),
    )


bar_legend = alt.Legend(
    orient="none", legendX=512, legendY=69, title="WaterStress", titleFont=FONT, titleFontSize=24,
    titleFontWeight="normal", titleColor="#111111", titlePadding=12, labelFont=FONT, labelFontSize=24,
    labelColor="#111111", labelOffset=13, gradientLength=347, gradientThickness=69, gradientStrokeWidth=0,
    values=[0.3, 0.4, 0.5, 0.6, 0.7, 0.8], format=".1f", type="gradient",
)

a = panel(0, PANEL_A, None)
b = panel(1, PANEL_B, None)
c = panel(2, PANEL_C, bar_legend)

chart = alt.hconcat(
    a, b, c, spacing=86, bounds="flush",
    title=alt.TitleParams("Hourly ISOP Flux at MOFLUX (MAY-SEP 2012)", font="Lato", fontWeight="bold", fontSize=32,
                          color="black", anchor="middle", offset=13, dx=15),
).resolve_scale(color="independent").resolve_legend(color="independent").properties(
    padding={"left": 6, "top": 8, "right": 5, "bottom": 0}
).configure_view(stroke="#7f7f7f", strokeWidth=2)

chart.save("out.html", embed_options={"renderer": "svg", "actions": False})
